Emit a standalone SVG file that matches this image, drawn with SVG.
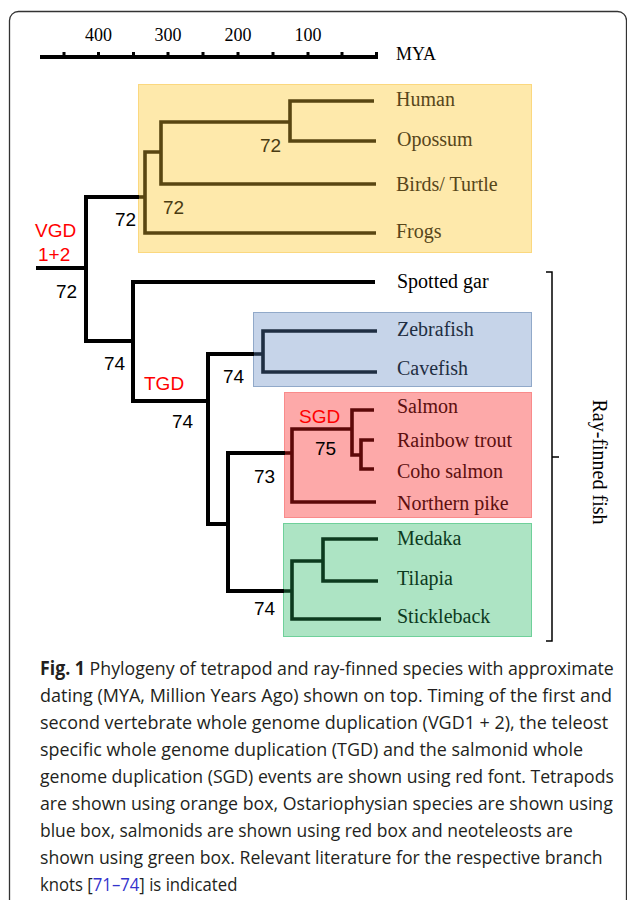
<svg xmlns="http://www.w3.org/2000/svg" width="627" height="900" viewBox="0 0 627 900">
<style>
.frame{fill:none;stroke:#333;stroke-width:1.3}
.ax{stroke:#000;stroke-width:4;fill:none}
.tick{stroke:#000;stroke-width:3;fill:none}
.axl{font-family:"Liberation Serif",serif;font-size:18px;fill:#000}
.tx{font-family:"Liberation Serif",serif;font-size:20px}
.num{font-family:"Liberation Sans",Arial,sans-serif;font-size:19px;fill:#000}
.ev{font-family:"Liberation Sans",Arial,sans-serif;font-size:19px;fill:#ff0000}
.b{fill:none;stroke:#000;stroke-width:4;stroke-linejoin:miter}
.bt{fill:none;stroke:#594612;stroke-width:3.6}
.bb{fill:none;stroke:#1f2e42;stroke-width:3.6}
.br{fill:none;stroke:#5c0808;stroke-width:3.6}
.bg{fill:none;stroke:#0c3a1e;stroke-width:3.6}
.cap{font-family:"Open Sans","Noto Sans",sans-serif;font-size:19px;fill:#231f20}
</style>
<rect class="frame" x="9.5" y="11.5" width="617" height="900" rx="9"/>
<g id="axis">
<path class="ax" d="M40 57 H378"/>
<path class="tick" d="M64 52 V57 M98.5 52 V57 M133.5 52 V57 M168 52 V57 M203 52 V57 M238 52 V57 M273 52 V57 M308 52 V57 M342 52 V57 M376.5 52 V57"/>
<text class="axl" x="98.5" y="41" text-anchor="middle">400</text>
<text class="axl" x="168" y="41" text-anchor="middle">300</text>
<text class="axl" x="238" y="41" text-anchor="middle">200</text>
<text class="axl" x="308" y="41" text-anchor="middle">100</text>
<text class="axl" x="396" y="60">MYA</text>
</g>
<g id="boxes">
<rect id="box-tetrapods" x="138.5" y="84.5" width="393" height="168" fill="#fee9ab" stroke="#fbd87f"/>
<rect id="box-ostariophysi" x="253.5" y="312.5" width="278" height="74" fill="#c6d4e9" stroke="#91a9c9"/>
<rect id="box-salmonids" x="284.5" y="392.5" width="247" height="125" fill="#fda9a9" stroke="#f98b8b"/>
<rect id="box-neoteleosts" x="283.5" y="523.5" width="248" height="113" fill="#ade4c4" stroke="#6fd09a"/>
</g>
<g id="connectors">
<path class="b" d="M36 268 H86"/>
<path class="b" d="M139 197 H86 V341 H133"/>
<path class="bt" d="M139 197 H145"/>
<path class="bt" d="M376 233 H145 V152 H161"/>
<path class="bt" d="M290 122 H161 V184 H376"/>
<path class="bt" d="M374 101 H290 V141 H376"/>
<path class="b" d="M375 282 H133 V401 H208"/>
<path class="b" d="M254 354 H208 V524 H228"/>
<path class="bb" d="M254 354 H263"/>
<path class="bb" d="M377 331 H263 V372 H377"/>
<path class="b" d="M285 453 H228 V591 H284"/>
<path class="br" d="M285 453 H292"/>
<path class="br" d="M352 429 H292 V502 H376"/>
<path class="br" d="M374 410 H352 V455 H361"/>
<path class="br" d="M374 440 H361 V469 H374"/>
<path class="bg" d="M284 591 H292"/>
<path class="bg" d="M323 561 H292 V619 H381"/>
<path class="bg" d="M378 539 H323 V581 H378"/>
</g>
<g id="n-human"><text class="tx" x="396" y="106" fill="#57461a">Human</text></g>
<g id="n-opossum"><text class="tx" x="397" y="146" fill="#57461a">Opossum</text></g>
<g id="n-birds"><text class="tx" x="396" y="191" fill="#57461a">Birds/ Turtle</text></g>
<g id="n-frogs"><text class="tx" x="396" y="238" fill="#57461a">Frogs</text></g>
<g id="n-gar"><text class="tx" x="397" y="288" fill="#000">Spotted gar</text></g>
<g id="n-zebrafish"><text class="tx" x="397" y="336" fill="#1f2e42">Zebrafish</text></g>
<g id="n-cavefish"><text class="tx" x="397" y="375" fill="#1f2e42">Cavefish</text></g>
<g id="n-salmon"><text class="tx" x="397" y="413" fill="#5c0f0f">Salmon</text></g>
<g id="n-trout"><text class="tx" x="397" y="447" fill="#5c0f0f">Rainbow trout</text></g>
<g id="n-coho"><text class="tx" x="397" y="478" fill="#5c0f0f">Coho salmon</text></g>
<g id="n-pike"><text class="tx" x="397" y="510" fill="#5c0f0f">Northern pike</text></g>
<g id="n-medaka"><text class="tx" x="397" y="545" fill="#0c3a1e">Medaka</text></g>
<g id="n-tilapia"><text class="tx" x="397" y="585" fill="#0c3a1e">Tilapia</text></g>
<g id="n-stickleback"><text class="tx" x="397" y="623" fill="#0c3a1e">Stickleback</text></g>
<g id="support">
<text class="num" x="260" y="152" style="fill:#4a3b12">72</text>
<text class="num" x="163" y="214" style="fill:#4a3b12">72</text>
<text class="num" x="115" y="226">72</text>
<text class="num" x="56" y="298">72</text>
<text class="num" x="104" y="370">74</text>
<text class="num" x="223" y="383">74</text>
<text class="num" x="172" y="428">74</text>
<text class="num" x="315" y="455">75</text>
<text class="num" x="254" y="483">73</text>
<text class="num" x="254" y="615">74</text>
</g>
<g id="events">
<text class="ev" x="35" y="237">VGD</text>
<text class="ev" x="38" y="261">1+2</text>
<text class="ev" x="144" y="390">TGD</text>
<text class="ev" x="299" y="423">SGD</text>
</g>
<g id="rayfinned">
<path d="M546 272 H552 V641 H546 M552 457 H559" fill="none" stroke="#000" stroke-width="1.5"/>
<text class="tx" transform="translate(593,462) rotate(90)" text-anchor="middle" fill="#000">Ray-finned fish</text>
</g>
<g id="caption">
<g transform="translate(40 0) scale(0.93 1)">
<text class="cap" x="0" y="675" textLength="617" lengthAdjust="spacingAndGlyphs"><tspan font-weight="bold">Fig. 1</tspan> Phylogeny of tetrapod and ray-finned species with approximate</text>
<text class="cap" x="0" y="702" textLength="615" lengthAdjust="spacingAndGlyphs">dating (MYA, Million Years Ago) shown on top. Timing of the first and</text>
<text class="cap" x="0" y="729" textLength="611" lengthAdjust="spacingAndGlyphs">second vertebrate whole genome duplication (VGD1 + 2), the teleost</text>
<text class="cap" x="0" y="756" textLength="584" lengthAdjust="spacingAndGlyphs">specific whole genome duplication (TGD) and the salmonid whole</text>
<text class="cap" x="0" y="783" textLength="617" lengthAdjust="spacingAndGlyphs">genome duplication (SGD) events are shown using red font. Tetrapods</text>
<text class="cap" x="0" y="810" textLength="616" lengthAdjust="spacingAndGlyphs">are shown using orange box, Ostariophysian species are shown using</text>
<text class="cap" x="0" y="837" textLength="573" lengthAdjust="spacingAndGlyphs">blue box, salmonids are shown using red box and neoteleosts are</text>
<text class="cap" x="0" y="864" textLength="605" lengthAdjust="spacingAndGlyphs">shown using green box. Relevant literature for the respective branch</text>
</g>
<g transform="translate(40 0) scale(0.88 1)">
<text class="cap" x="0" y="891">knots [<tspan fill="#3333cc">71–74</tspan>] is indicated</text>
</g>
</g>
</svg>
